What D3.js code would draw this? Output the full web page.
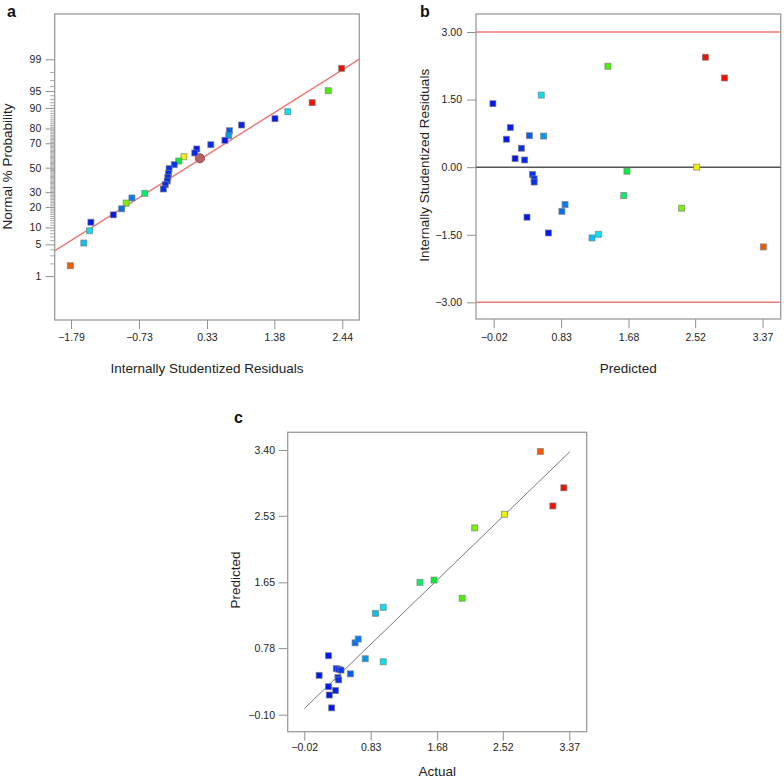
<!DOCTYPE html>
<html><head><meta charset="utf-8">
<script src="https://cdn.jsdelivr.net/npm/d3@7"></script>
<style>
body{margin:0;background:#fff;}
svg{display:block;font-family:"Liberation Sans",Arial,Helvetica,sans-serif;}
</style></head><body>
<svg id="chart" width="784" height="778"></svg>
<script>
// ---------- DATA ----------
// Panel a: normal probability plot of internally studentized residuals
const aResiduals = [2.43, 2.22, 1.97, 1.59, 1.39, 0.87, 0.68, 0.67, 0.61, 0.39, 0.17, 0.14, 0.22, -0.03, -0.11, -0.18, -0.26, -0.27, -0.28, -0.29, -0.32, -0.35, -0.64, -0.84, -0.93, -1.00, -1.13, -1.48, -1.50, -1.59, -1.80];
const aProbabilities = [98.35, 95.07, 91.85, 88.53, 85.36, 82.02, 78.64, 75.38, 72.17, 68.93, 65.6, 62.4, 58.0, 59.3, 55.7, 52.6, 49.2, 45.2, 41.8, 38.8, 35.8, 32.4, 29.1, 25.8, 22.4, 18.9, 15.6, 12.1, 8.8, 5.3, 1.77];
const aResponse = [3.16, 2.00, 3.30, 0.99, 0.33, 0.38, 0.57, 0.76, 0.30, 0.42, 0.29, 0.40, null, 2.54, 1.64, 0.44, 0.42, 0.42, 0.42, 0.42, 0.42, 0.42, 1.46, 0.67, 2.16, 0.63, 0.17, 0.29, 0.99, 0.89, 3.00];
const aHighlightedRun = 12;
const aFitResiduals = [-2.04, 2.70];
const aFitProbabilities = [3.75, 99.0];
const aXTicks = [-1.79, -0.73, 0.33, 1.38, 2.44];
const aYTickLabels = [1, 5, 10, 20, 30, 50, 70, 80, 90, 95, 99];

// Panel b: residuals vs predicted
const bPredicted = [-0.03, 0.58, 0.19, 0.14, 0.43, 0.61, 0.33, 0.25, 0.37, 0.47, 0.49, 0.49, 1.42, 1.66, 1.62, 2.54, 2.65, 2.89, 0.40, 0.67, 0.84, 0.88, 1.22, 1.30, 2.35, 3.38];
const bResiduals = [1.41, 1.60, 0.88, 0.62, 0.70, 0.69, 0.42, 0.19, 0.16, -0.16, -0.26, -0.33, 2.24, -0.09, -0.63, 0.00, 2.44, 1.98, -1.11, -1.46, -0.98, -0.83, -1.57, -1.49, -0.91, -1.77];
const bResponse = [0.33, 0.99, 0.38, 0.30, 0.57, 0.76, 0.42, 0.29, 0.40, 0.44, 0.42, 0.42, 2.00, 1.64, 1.46, 2.54, 3.16, 3.30, 0.17, 0.29, 0.63, 0.67, 0.89, 0.99, 2.16, 3.00];
const bLimits = [3.00, -3.00];
const bXTicks = [-0.02, 0.83, 1.68, 2.52, 3.37];
const bYTicks = [-3.00, -1.50, 0.00, 1.50, 3.00];

// Panel c: predicted vs actual
const cActual = [0.29, 0.39, 0.42, 0.45, 0.17, 0.41, 0.42, 0.57, 0.29, 0.38, 0.30, 0.33, 0.76, 0.99, 0.63, 0.67, 0.89, 0.99, 1.46, 1.64, 2.00, 2.16, 2.54, 3.00, 3.16, 3.30];
const cPredicted = [0.68, 0.51, 0.50, 0.49, 0.42, 0.39, 0.36, 0.44, 0.27, 0.22, 0.16, -0.01, 0.64, 0.60, 0.85, 0.90, 1.24, 1.32, 1.65, 1.68, 1.44, 2.37, 2.55, 3.38, 2.66, 2.90];
const cFitLine = [-0.02, 3.38];
const cXTicks = [-0.02, 0.83, 1.68, 2.52, 3.37];
const cYTicks = [-0.10, 0.78, 1.65, 2.53, 3.40];

// ---------- HELPERS ----------
const svg = d3.select("#chart");
const FONT = '"Liberation Sans", Arial, Helvetica, sans-serif';
const hue = d3.scaleLinear().domain([0.35, 2.54, 3.0, 3.15]).range([235, 60, 22, 3]).clamp(true);
const colorOf = v => d3.hsl(hue(v), 0.97, 0.48).formatHex();

function probit(p) {
  const a = [-3.969683028665376e+01, 2.209460984245205e+02, -2.759285104469687e+02, 1.383577518672690e+02, -3.066479806614716e+01, 2.506628277459239e+00];
  const b = [-5.447609879822406e+01, 1.615858368580409e+02, -1.556989798598866e+02, 6.680131188771972e+01, -1.328068155288572e+01];
  const c = [-7.784894002430293e-03, -3.223964580411365e-01, -2.400758277161838e+00, -2.549732539343734e+00, 4.374664141464968e+00, 2.938163982698783e+00];
  const d = [7.784695709041462e-03, 3.224671290700398e-01, 2.445134137142996e+00, 3.754408661907416e+00];
  const pl = 0.02425, ph = 1 - pl;
  let q, r;
  if (p < pl) { q = Math.sqrt(-2 * Math.log(p)); return (((((c[0]*q+c[1])*q+c[2])*q+c[3])*q+c[4])*q+c[5]) / ((((d[0]*q+d[1])*q+d[2])*q+d[3])*q+1); }
  if (p > ph) { q = Math.sqrt(-2 * Math.log(1 - p)); return -(((((c[0]*q+c[1])*q+c[2])*q+c[3])*q+c[4])*q+c[5]) / ((((d[0]*q+d[1])*q+d[2])*q+d[3])*q+1); }
  q = p - 0.5; r = q * q;
  return (((((a[0]*r+a[1])*r+a[2])*r+a[3])*r+a[4])*r+a[5])*q / (((((b[0]*r+b[1])*r+b[2])*r+b[3])*r+b[4])*r+1);
}

function styleAxis(g, size) {
  g.attr("font-family", FONT).attr("font-size", size || 10.5);
  g.select(".domain").remove();
  g.selectAll(".tick line").attr("stroke", "#8f8f8f").attr("stroke-width", 1);
  g.selectAll(".tick text").attr("fill", "#222");
}
function frame(g, w, h) {
  g.append("rect").attr("width", w).attr("height", h)
    .attr("fill", "none").attr("stroke", "#9c9c9c").attr("stroke-width", 1.3);
}
function squares(g, xs, ys, cols, sx, sy) {
  g.selectAll("rect.pt").data(xs.map((x, i) => [x, ys[i], cols[i]])).join("rect")
    .attr("class", "pt")
    .attr("x", d => sx(d[0]) - 3).attr("y", d => sy(d[1]) - 3)
    .attr("width", 6).attr("height", 6)
    .attr("fill", d => colorOf(d[2]))
    .attr("stroke", "#7d7d7d").attr("stroke-opacity", 0.75).attr("stroke-width", 0.9);
}
function label(txt, x, y) {
  svg.append("text").attr("x", x).attr("y", y).attr("font-family", FONT)
    .attr("font-weight", "bold").attr("font-size", 16).attr("fill", "#111").text(txt);
}
function title(txt, x, y, rot) {
  const t = svg.append("text").attr("font-family", FONT).attr("font-size", 13.5)
    .attr("fill", "#222").attr("text-anchor", "middle").text(txt);
  if (rot) t.attr("transform", `translate(${x},${y}) rotate(-90)`);
  else t.attr("x", x).attr("y", y);
}

// ---------- PANEL A ----------
{
  const L = 54.7, T = 14, W = 304.6, H = 306;
  const g = svg.append("g").attr("transform", `translate(${L},${T})`);
  const x = d3.scaleLinear().domain([-2.044, 2.705]).range([0, W]);
  const z = d3.scaleLinear().domain([-3.268, 3.298]).range([H, 0]);
  const y = p => z(probit(p / 100));

  const minor = d3.range(1, 100).filter(p => !aYTickLabels.includes(p));
  const gm = g.append("g").call(d3.axisLeft(z).tickValues(minor.map(p => probit(p / 100))).tickSize(4.5).tickFormat(""));
  styleAxis(gm);
  gm.selectAll(".tick line").attr("stroke", "#a8a8a8");
  const gy = g.append("g").call(d3.axisLeft(z).tickValues(aYTickLabels.map(p => probit(p / 100)))
    .tickSize(9).tickPadding(4.4).tickFormat((d, i) => aYTickLabels[i]));
  styleAxis(gy);
  const gx = g.append("g").attr("transform", `translate(0,${H})`)
    .call(d3.axisBottom(x).tickValues(aXTicks).tickSize(9).tickPadding(4.2).tickFormat(d3.format(".2f")));
  styleAxis(gx);
  frame(g, W, H);

  g.append("line")
    .attr("x1", x(aFitResiduals[0])).attr("y1", y(aFitProbabilities[0]))
    .attr("x2", x(aFitResiduals[1])).attr("y2", y(aFitProbabilities[1]))
    .attr("stroke", "#f07a78").attr("stroke-width", 1.5);

  const idx = d3.range(aResiduals.length).filter(i => i !== aHighlightedRun);
  squares(g, idx.map(i => aResiduals[i]), idx.map(i => aProbabilities[i]), idx.map(i => aResponse[i]), x, y);
  g.append("circle").attr("cx", x(aResiduals[aHighlightedRun])).attr("cy", y(aProbabilities[aHighlightedRun]))
    .attr("r", 4.6).attr("fill", "#b46262").attr("stroke", "#8a5050").attr("stroke-width", 0.9);

  label("a", 7, 17.3);
  title("Internally Studentized Residuals", L + W / 2, 372.5);
  title("Normal % Probability", 12.2, 166.5, true);
}

// ---------- PANEL B ----------
{
  const L = 476, T = 14, W = 304.7, H = 305;
  const g = svg.append("g").attr("transform", `translate(${L},${T})`);
  const x = d3.scaleLinear().domain([-0.243, 3.599]).range([0, W]);
  const y = d3.scaleLinear().domain([-3.37, 3.40]).range([H, 0]);
  const gy = g.append("g").call(d3.axisLeft(y).tickValues(bYTicks).tickSize(9).tickPadding(5).tickFormat(d3.format(".2f")));
  styleAxis(gy);
  const gx = g.append("g").attr("transform", `translate(0,${H})`)
    .call(d3.axisBottom(x).tickValues(bXTicks).tickSize(9).tickPadding(5.5).tickFormat(d3.format(".2f")));
  styleAxis(gx);
  frame(g, W, H);

  g.selectAll("line.lim").data(bLimits).join("line").attr("class", "lim")
    .attr("x1", 0).attr("x2", W).attr("y1", d => y(d)).attr("y2", d => y(d))
    .attr("stroke", "#f07a78").attr("stroke-width", 1.5);
  g.append("line").attr("x1", 0).attr("x2", W).attr("y1", y(0)).attr("y2", y(0))
    .attr("stroke", "#555").attr("stroke-width", 1.4);

  squares(g, bPredicted, bResiduals, bResponse, x, y);

  label("b", 420, 16.7);
  title("Predicted", L + W / 2, 372.5);
  title("Internally Studentized Residuals", 429, 165.3, true);
}

// ---------- PANEL C ----------
{
  const L = 287.7, T = 432.3, W = 299, H = 299.4;
  const g = svg.append("g").attr("transform", `translate(${L},${T})`);
  const x = d3.scaleLinear().domain([-0.232, 3.593]).range([0, W]);
  const y = d3.scaleLinear().domain([-0.325, 3.634]).range([H, 0]);
  const gy = g.append("g").call(d3.axisLeft(y).tickValues(cYTicks).tickSize(9).tickPadding(3.7).tickFormat(d3.format(".2f")));
  styleAxis(gy);
  const gx = g.append("g").attr("transform", `translate(0,${H})`)
    .call(d3.axisBottom(x).tickValues(cXTicks).tickSize(9).tickPadding(2.6).tickFormat(d3.format(".2f")));
  styleAxis(gx);
  frame(g, W, H);

  g.append("line")
    .attr("x1", x(cFitLine[0])).attr("y1", y(cFitLine[0]))
    .attr("x2", x(cFitLine[1])).attr("y2", y(cFitLine[1]))
    .attr("stroke", "#6a6a6a").attr("stroke-width", 0.9);

  squares(g, cActual, cPredicted, cActual, x, y);

  label("c", 234, 422.5);
  title("Actual", L + W / 2, 776);
  title("Predicted", 240, 580, true);
}
</script></body></html>
